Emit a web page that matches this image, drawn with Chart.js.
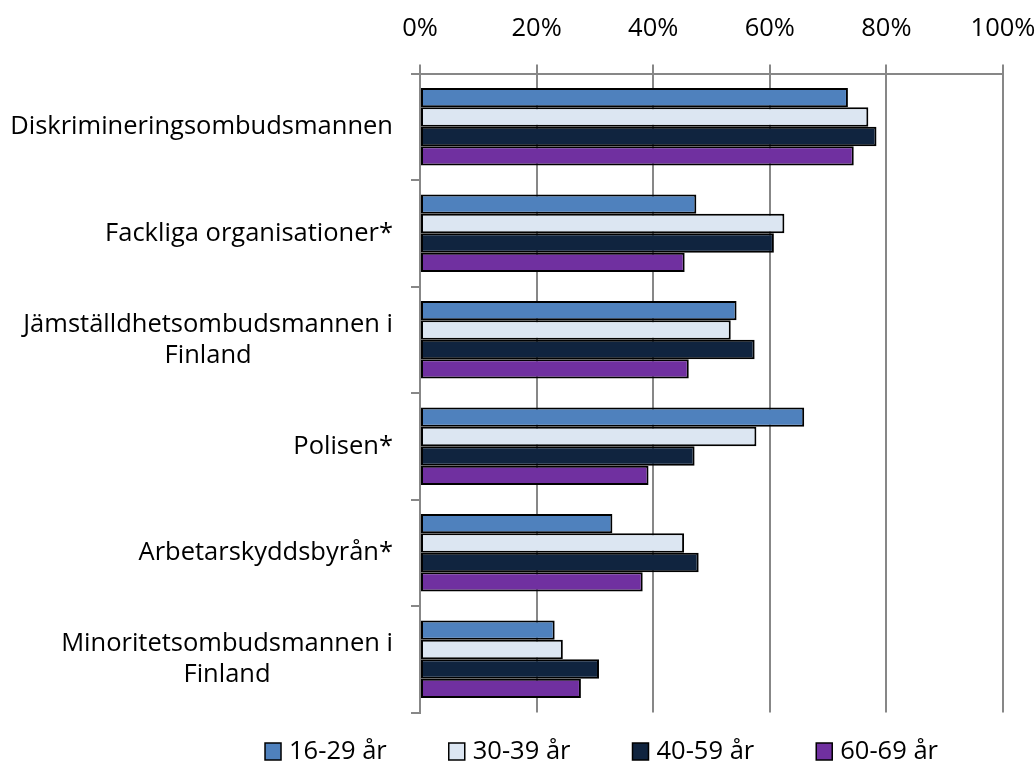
<!DOCTYPE html>
<html>
<head>
<meta charset="utf-8">
<script src="https://cdn.jsdelivr.net/npm/chart.js@4"></script>
<style>
  body { margin: 0; background: #fff; }
</style>
</head>
<body>
<canvas id="myChart" width="1035" height="763"></canvas>
<script>
let categories = [
  ['Diskrimineringsombudsmannen'],
  ['Fackliga organisationer*'],
  ['Jämställdhetsombudsmannen i', 'Finland'],
  ['Polisen*'],
  ['Arbetarskyddsbyrån*'],
  ['Minoritetsombudsmannen i', 'Finland']
];
let seriesNames = ['16-29 år', '30-39 år', '40-59 år', '60-69 år'];
let age1629 = [73.4, 47.4, 54.3, 65.9, 33.0, 23.1];
let age3039 = [76.9, 62.5, 53.3, 57.7, 45.3, 24.5];
let age4059 = [78.3, 60.7, 57.4, 47.1, 47.8, 30.7];
let age6069 = [74.4, 45.4, 46.1, 39.2, 38.2, 27.6];
let xTicks = [0, 20, 40, 60, 80, 100];

const FONT = '25.5px "Open Sans"';
const GRAY = '#878787';

Chart.defaults.font.family = '"Open Sans"';
Chart.defaults.font.size = 25.5;
Chart.defaults.color = '#000';

// y labels: block right aligned, lines centered inside the block
const yLabels = {
  id: 'yLabels',
  afterDraw(chart) {
    const ctx = chart.ctx;
    const y = chart.scales.y;
    ctx.save();
    ctx.font = FONT;
    ctx.fillStyle = '#000';
    ctx.textAlign = 'center';
    ctx.textBaseline = 'middle';
    categories.forEach((lines, i) => {
      const w = Math.max(...lines.map(l => ctx.measureText(l).width));
      const cx = chart.chartArea.left - 27 - w / 2;
      const cy = y.getPixelForTick(i);
      const lh = 31;
      lines.forEach((l, j) => {
        ctx.fillText(l, cx, cy - (lines.length - 1) * lh / 2 + j * lh);
      });
    });
    ctx.restore();
  }
};

// legend at the bottom, like the excel one
const bottomLegend = {
  id: 'bottomLegend',
  afterDraw(chart) {
    const ctx = chart.ctx;
    const ds = chart.data.datasets;
    const boxW = 16, boxH = 17, gap = 8, itemGap = 62;
    const centerX = 601.5, centerY = 751.5;
    ctx.save();
    ctx.font = FONT;
    const widths = ds.map(d => boxW + gap + ctx.measureText(d.label).width);
    const total = widths.reduce((a, b) => a + b, 0) + itemGap * (ds.length - 1);
    let x = centerX - total / 2;
    ds.forEach((d, i) => {
      ctx.fillStyle = d.backgroundColor;
      ctx.fillRect(x, centerY - boxH / 2, boxW, boxH);
      ctx.lineWidth = 1.5;
      ctx.strokeStyle = '#000';
      ctx.strokeRect(x, centerY - boxH / 2, boxW, boxH);
      ctx.fillStyle = '#000';
      ctx.textAlign = 'left';
      ctx.textBaseline = 'middle';
      ctx.fillText(d.label, x + boxW + gap, centerY);
      x += widths[i] + itemGap;
    });
    ctx.restore();
  }
};

const colors = ['#4F81BD', '#DCE6F2', '#10243F', '#7030A0'];
const values = [age1629, age3039, age4059, age6069];

var ctx = document.getElementById('myChart').getContext('2d');
let myChart = new Chart(ctx, {
  type: 'bar',
  data: {
    labels: categories,
    datasets: seriesNames.map((name, i) => ({
      label: name,
      data: values[i],
      backgroundColor: colors[i],
      borderColor: '#000',
      borderWidth: 2,
      borderSkipped: false
    }))
  },
  options: {
    indexAxis: 'y',
    responsive: false,
    animation: false,
    layout: { padding: { left: 0, right: 32, top: 0, bottom: 50.5 } },
    categoryPercentage: 0.73,
    barPercentage: 1,
    scales: {
      x: {
        position: 'top',
        min: 0,
        max: 100,
        afterBuildTicks: (scale) => {
          scale.ticks = xTicks.map(v => ({ value: v }));
        },
        afterFit: (scale) => {
          scale.height = 73.5;
          scale.paddingLeft = 0;
          scale.paddingRight = 0;
        },
        ticks: {
          padding: 20,
          callback: (v) => v + '%'
        },
        grid: {
          color: GRAY,
          lineWidth: 2,
          tickLength: 9
        },
        border: { color: GRAY, width: 2 }
      },
      y: {
        afterFit: (scale) => { scale.width = 420; },
        ticks: { display: false },
        grid: {
          drawOnChartArea: false,
          color: GRAY,
          lineWidth: 2,
          tickLength: 9
        },
        border: { color: GRAY, width: 2 }
      }
    },
    plugins: {
      legend: { display: false },
      tooltip: { enabled: false }
    }
  },
  plugins: [yLabels, bottomLegend]
});
</script>
</body>
</html>
